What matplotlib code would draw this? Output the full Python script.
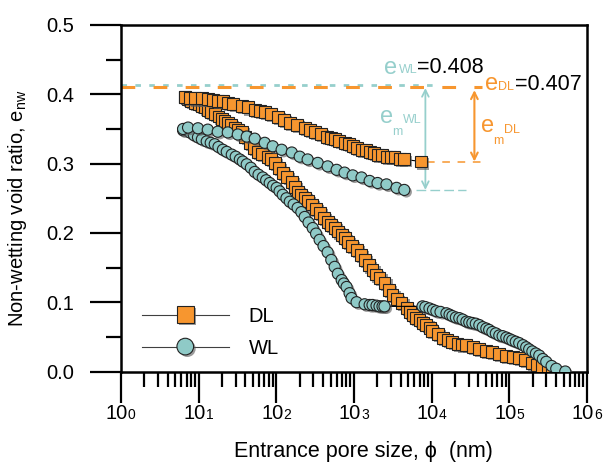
# ==========================================
# IMPORTAR LIBRERÍAS
# ==========================================

import numpy as np

import matplotlib

matplotlib.use("Agg")

import matplotlib.pyplot as plt

import matplotlib.patheffects as pe

from matplotlib.lines import Line2D

from matplotlib.ticker import LogLocator, NullFormatter, MultipleLocator


# ==========================================
# DATOS
# ==========================================

# DL - rama inferior (intrusión)
dl_int_x = [6.65, 7.3, 7.9, 8.9, 10, 11.0, 12, 13.1, 14.5, 16.1,
            18, 19.9, 21.5, 23.7, 26, 29.2, 32, 35.9, 40, 45.5,
            51, 57.6, 66, 77.5, 86, 95.4, 108, 121, 139, 158,
            172, 188, 210, 232, 255, 285, 320, 361, 410, 458,
            510, 564, 625, 694, 760, 828, 950, 1080, 1220, 1370,
            1550, 1730, 1930, 2130, 2470, 2800, 3130, 3600, 4090, 4750,
            5200, 5670, 6300, 6970, 7700, 8570, 9400, 10200, 11900, 13800,
            16000, 18500, 21500, 24500, 28000, 34000, 41100, 50000, 60400, 74000,
            91500, 110000, 134000, 160000, 198000, 230000, 266000, 310000, 357000]
dl_int_y = [0.396, 0.393, 0.391, 0.388, 0.386, 0.383, 0.381, 0.378, 0.375, 0.371,
            0.368, 0.364, 0.362, 0.359, 0.356, 0.352, 0.349, 0.346, 0.338, 0.330,
            0.323, 0.317, 0.314, 0.310, 0.306, 0.301, 0.294, 0.287, 0.281, 0.274,
            0.266, 0.259, 0.255, 0.251, 0.246, 0.241, 0.235, 0.229, 0.222, 0.216,
            0.211, 0.207, 0.202, 0.197, 0.192, 0.187, 0.181, 0.175, 0.168, 0.161,
            0.153, 0.146, 0.140, 0.135, 0.128, 0.118, 0.110, 0.104, 0.099, 0.091,
            0.086, 0.081, 0.077, 0.074, 0.070, 0.067, 0.063, 0.059, 0.054, 0.049,
            0.045, 0.042, 0.040, 0.039, 0.038, 0.035, 0.033, 0.030, 0.028, 0.025,
            0.023, 0.021, 0.019, 0.016, 0.012, 0.009, 0.006, 0.003, 0.001]

# DL - rama superior (extrusión)
dl_ext_x = [6.65, 7.8, 8.9, 11, 13.1, 15.3, 17.6, 20.5, 23.7, 28,
            35.9, 43, 52.7, 61, 70.9, 86, 104, 125, 148, 185,
            232, 270, 312, 380, 446, 500, 564, 650, 756, 860,
            962, 1100, 1250, 1420, 1590, 1800, 2010, 2300, 2620, 2950,
            3320, 3900, 4440, 7370]
dl_ext_y = [0.396, 0.395, 0.394, 0.394, 0.393, 0.392, 0.391, 0.390, 0.388, 0.386,
            0.383, 0.381, 0.378, 0.376, 0.374, 0.371, 0.367, 0.363, 0.359, 0.356,
            0.352, 0.349, 0.346, 0.343, 0.339, 0.337, 0.335, 0.333, 0.330, 0.328,
            0.325, 0.323, 0.320, 0.319, 0.317, 0.315, 0.313, 0.312, 0.310, 0.310,
            0.309, 0.307, 0.306, 0.303]

# WL - rama inferior (intrusión)
wl_int_x = [6.3, 7.7, 8.7, 9.8, 11, 12.7, 14.3, 16.1, 18, 20.5,
            23, 26.7, 30, 33.9, 37, 41.6, 47, 52.7, 59, 66.9,
            74, 82.2, 91, 101, 110, 121, 135, 149, 167, 188,
            210, 232, 260, 294, 325, 361, 405, 458, 510, 564,
            620, 694, 740, 803, 877, 930, 1080, 1370, 1590, 1730,
            1950, 2130, 2330, 2470, 7620, 8300, 9370, 10400, 11500, 13000,
            15500, 17000, 18500, 20500, 22700, 25000, 28000, 30500, 33400, 37000,
            41100, 45500, 50600, 55000, 60400, 67000, 74300, 82000, 91500, 100000,
            109000, 121000, 134000, 150000, 165000, 180000, 198000, 220000, 243000, 270000,
            299000, 350000, 402000, 525000]
wl_int_y = [0.348, 0.345, 0.341, 0.338, 0.335, 0.332, 0.330, 0.328, 0.324, 0.320,
            0.317, 0.313, 0.310, 0.306, 0.303, 0.299, 0.294, 0.288, 0.284, 0.280,
            0.276, 0.272, 0.268, 0.265, 0.260, 0.255, 0.250, 0.245, 0.241, 0.236,
            0.230, 0.223, 0.215, 0.207, 0.199, 0.190, 0.181, 0.172, 0.161, 0.151,
            0.141, 0.132, 0.127, 0.122, 0.113, 0.106, 0.100, 0.097, 0.096, 0.096,
            0.095, 0.094, 0.094, 0.094, 0.094, 0.093, 0.091, 0.089, 0.087, 0.086,
            0.084, 0.082, 0.080, 0.078, 0.077, 0.075, 0.072, 0.071, 0.070, 0.069,
            0.067, 0.064, 0.062, 0.060, 0.057, 0.055, 0.052, 0.051, 0.049, 0.047,
            0.045, 0.043, 0.041, 0.038, 0.035, 0.032, 0.029, 0.026, 0.023, 0.018,
            0.014, 0.008, 0.004, 0.0]

# WL - rama superior (extrusión)
wl_ext_x = [6.3, 7.3, 9.8, 13.1, 17.6, 23.7, 31.9, 41.6, 52.7, 70.9,
            89.9, 117, 158, 200, 253, 341, 458, 597, 756, 962,
            1250, 1590, 2010, 2620, 3530, 4440]
wl_ext_y = [0.350, 0.352, 0.351, 0.349, 0.346, 0.345, 0.342, 0.339, 0.336, 0.330,
            0.325, 0.320, 0.316, 0.310, 0.306, 0.301, 0.296, 0.291, 0.287, 0.283,
            0.280, 0.275, 0.272, 0.270, 0.265, 0.262]

# líneas de referencia
e_wl_top = 0.413
e_dl_top = 0.410
e_wl_end = 0.262
e_dl_end = 0.303

x_ticks_exp = [0, 1, 2, 3, 4, 5, 6]


# ==========================================
# CONFIGURAR FIGURA
# ==========================================

plt.rcParams["font.family"] = ["Liberation Sans", "DejaVu Sans"]
plt.rcParams["mathtext.fontset"] = "custom"
plt.rcParams["mathtext.rm"] = "Liberation Sans"
plt.rcParams["mathtext.default"] = "regular"

naranja = "#F7962F"
verde = "#8FCAC7"
verde_txt = "#96CFCC"

fig = plt.figure(figsize=(6.04, 4.70), dpi=100)
ax = fig.add_axes([121 / 604, 1 - 371.5 / 470, 466 / 604, 346.5 / 470])

sombra = [pe.SimplePatchShadow(offset=(1.5, -1.5), shadow_rgbFace="0.35", alpha=0.6), pe.Normal()]


# ==========================================
# GRÁFICAS
# ==========================================

for xs, ys in [(dl_int_x, dl_int_y), (dl_ext_x, dl_ext_y)]:
    ax.plot(xs, ys, color="black", lw=0.8, zorder=3)
    ax.plot(xs, ys, ls="none", marker="s", ms=8.6, mfc=naranja, mec="#222222",
            mew=0.8, path_effects=sombra, zorder=4)

for xs, ys in [(wl_int_x, wl_int_y), (wl_ext_x, wl_ext_y)]:
    ax.plot(xs, ys, color="black", lw=0.8, zorder=5)
    ax.plot(xs, ys, ls="none", marker="o", ms=8.0, mfc=verde, mec="#222222",
            mew=0.8, path_effects=sombra, zorder=6)

# horizontales de referencia
ax.plot([1, 11800], [e_wl_top, e_wl_top], color=verde_txt, lw=2.0,
        ls=(0, (2.0, 3.0)), zorder=2)
ax.plot([1, 45000], [e_dl_top, e_dl_top], color=naranja, lw=2.2,
        ls=(0, (4.5, 6.0)), zorder=2)
ax.plot([6300, 28000], [e_wl_end, e_wl_end], color=verde_txt, lw=1.0,
        ls=(0, (7, 3)), zorder=2)
ax.plot([8800, 47000], [e_dl_end, e_dl_end], color=naranja, lw=1.1,
        ls=(0, (5, 5)), zorder=2)

# flechas
ax.annotate("", xy=(8300, e_wl_top - 0.004), xytext=(8300, e_wl_end),
            arrowprops=dict(arrowstyle="<->", color=verde_txt, lw=1.3,
                            shrinkA=0, shrinkB=0, mutation_scale=12))
ax.annotate("", xy=(35500, e_dl_top - 0.004), xytext=(35500, e_dl_end),
            arrowprops=dict(arrowstyle="<->", color=naranja, lw=1.5,
                            shrinkA=0, shrinkB=0, mutation_scale=12))

# textos
txt = dict(ha="left", va="baseline")
ax.text(2470, 0.429, "e", color=verde_txt, fontsize=17, **txt)
ax.text(3800, 0.431, "WL", color=verde_txt, fontsize=9, **txt)
ax.text(6500, 0.431, "=0.408", color="black", fontsize=15.5, **txt)

ax.text(49200, 0.406, "e", color=naranja, fontsize=17, **txt)
ax.text(72500, 0.406, "DL", color=naranja, fontsize=9, **txt)
ax.text(118000, 0.406, "=0.407", color="black", fontsize=15.5, **txt)

ax.text(2130, 0.3586, "e", color=verde_txt, fontsize=17, **txt)
ax.text(3100, 0.341, "m", color=verde_txt, fontsize=9, **txt)
ax.text(4300, 0.3586, "WL", color=verde_txt, fontsize=9, **txt)

ax.text(43700, 0.3456, "e", color=naranja, fontsize=17, **txt)
ax.text(61000, 0.3283, "m", color=naranja, fontsize=9, **txt)
ax.text(85000, 0.344, "DL", color=naranja, fontsize=9, **txt)


# ==========================================
# EJES
# ==========================================

ax.set_xscale("log")
ax.set_xlim(1, 1e6)
ax.set_ylim(0, 0.5)

ax.xaxis.set_major_locator(LogLocator(base=10, numticks=12))
ax.xaxis.set_minor_locator(LogLocator(base=10, subs=np.arange(2, 10), numticks=12))
ax.xaxis.set_major_formatter(NullFormatter())
ax.xaxis.set_minor_formatter(NullFormatter())

ax.yaxis.set_major_locator(MultipleLocator(0.1))
ax.yaxis.set_minor_locator(MultipleLocator(0.05))
ax.yaxis.set_major_formatter(plt.FormatStrFormatter("%.1f"))

ax.tick_params(which="major", direction="out", length=22, width=1.6,
               labelsize=14.5, pad=12, top=False, right=False)
ax.tick_params(which="minor", direction="out", length=11, width=1.6,
               top=False, right=False)

for s in ax.spines.values():
    s.set_linewidth(1.8)

for k in x_ticks_exp:
    ax.annotate("10", xy=(10.0 ** k, 0), xycoords=("data", "axes fraction"),
                xytext=(5, -34), textcoords="offset points",
                ha="right", va="baseline", fontsize=14.5)
    ax.annotate(str(k), xy=(10.0 ** k, 0), xycoords=("data", "axes fraction"),
                xytext=(5, -34), textcoords="offset points",
                ha="left", va="baseline", fontsize=10)


# ==========================================
# TÍTULOS
# ==========================================

ax.set_xlabel("Entrance pore size, \u03d5  (nm)", fontsize=15.5)
ax.xaxis.set_label_coords(0.52, -0.2)

ax.set_ylabel("Non-wetting void ratio, e$_{nw}$", fontsize=14.5)
ax.yaxis.set_label_coords(-0.197, 0.47)


# ==========================================
# LEYENDA
# ==========================================

h_dl = Line2D([], [], color="0.25", lw=0.8, marker="s", ms=12, mfc=naranja,
              mec="#222222", mew=0.8, path_effects=sombra)
h_wl = Line2D([], [], color="0.25", lw=0.8, marker="o", ms=12, mfc=verde,
              mec="#222222", mew=0.8, path_effects=sombra)

ax.legend([h_dl, h_wl], ["DL", "WL"], loc="lower left",
          bbox_to_anchor=(0.045, 0.04), frameon=False, fontsize=14.5,
          handlelength=4.3, handletextpad=1.0, labelspacing=0.65,
          borderpad=0, borderaxespad=0)


# ==========================================
# GUARDAR IMAGEN
# ==========================================

plt.savefig("out.png", dpi=100)
